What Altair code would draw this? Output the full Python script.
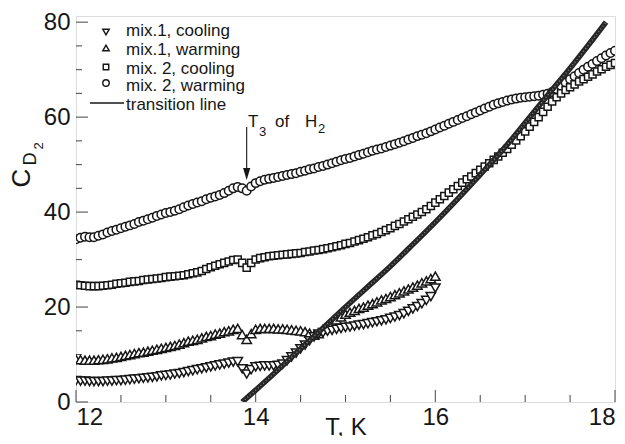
import altair as alt
import pandas as pd
import numpy as np

# ---------------- data ----------------
T_START, T_STEP = 12.0, 0.05

mix2_warming = [  # circles, T = 12.00 ... 18.00
    34.3, 34.6, 34.8, 34.7, 34.7, 35.0, 35.3, 35.7, 36.0, 36.3,
    36.6, 36.9, 37.2, 37.5, 37.9, 38.2, 38.5, 38.8, 39.2, 39.5,
    39.8, 40.0, 40.3, 40.6, 41.0, 41.4, 41.7, 42.0, 42.3, 42.7,
    43.0, 43.3, 43.6, 44.0, 44.5, 45.0, 45.3, 45.0, 44.5, 45.4,
    46.1, 46.5, 46.8, 47.0, 47.2, 47.4, 47.6, 47.8, 48.0, 48.2,
    48.5, 48.7, 49.0, 49.2, 49.5, 49.7, 50.0, 50.3, 50.6, 50.9,
    51.2, 51.4, 51.7, 52.0, 52.3, 52.6, 52.9, 53.2, 53.4, 53.7,
    54.0, 54.3, 54.6, 54.9, 55.3, 55.6, 56.0, 56.3, 56.6, 57.0,
    57.4, 57.8, 58.2, 58.6, 59.0, 59.4, 59.8, 60.2, 60.6, 61.0,
    61.4, 61.8, 62.2, 62.6, 62.9, 63.2, 63.5, 63.7, 63.9, 64.1,
    64.2, 64.3, 64.4, 64.5, 64.7, 64.9, 65.3, 65.9, 66.6, 67.3,
    68.0, 68.6, 69.3, 70.0, 70.6, 71.2, 71.8, 72.4, 73.0, 73.5,
    74.0,
]

mix2_cooling = [  # squares, T = 12.00 ... 18.00
    24.7, 24.6, 24.5, 24.4, 24.4, 24.4, 24.5, 24.6, 24.7, 24.9,
    25.0, 25.1, 25.3, 25.4, 25.5, 25.7, 25.8, 25.9, 26.0, 26.1,
    26.3, 26.4, 26.5, 26.6, 26.7, 26.9, 27.1, 27.3, 27.6, 28.0,
    28.4, 28.7, 29.0, 29.3, 29.6, 29.9, 30.0, 29.3, 28.3, 29.3,
    30.0, 30.3, 30.5, 30.7, 30.8, 30.9, 31.0, 31.1, 31.2, 31.3,
    31.4, 31.6, 31.7, 31.9, 32.0, 32.2, 32.4, 32.6, 32.8, 33.0,
    33.3, 33.5, 33.8, 34.1, 34.4, 34.7, 35.1, 35.4, 35.8, 36.2,
    36.6, 37.1, 37.5, 38.0, 38.5, 39.0, 39.5, 40.0, 40.6, 41.3,
    42.0, 42.7, 43.4, 44.1, 44.8, 45.5, 46.2, 46.9, 47.5, 48.2,
    48.9, 49.6, 50.3, 51.0, 51.7, 52.5, 53.3, 54.2, 55.1, 56.0,
    57.0, 58.0, 59.0, 60.0, 61.1, 62.2, 63.3, 64.2, 65.0, 65.7,
    66.3, 66.9, 67.5, 68.0, 68.5, 69.0, 69.6, 70.1, 70.6, 71.0,
    71.4,
]

mix1_warming = [  # up triangles, T = 12.00 ... 16.00
    9.0, 8.9, 8.8, 8.8, 8.8, 8.9, 9.0, 9.1, 9.3, 9.4,
    9.6, 9.8, 10.0, 10.2, 10.4, 10.5, 10.7, 10.9, 11.1, 11.3,
    11.5, 11.7, 11.9, 12.2, 12.5, 12.8, 13.0, 13.2, 13.5, 13.8,
    14.0, 14.3, 14.5, 14.8, 15.0, 15.3, 15.5, 14.2, 13.2, 14.4,
    15.3, 15.5, 15.5, 15.5, 15.5, 15.4, 15.4, 15.3, 15.2, 15.1,
    15.0, 14.8, 14.5, 14.1, 14.4, 15.3, 16.0, 16.7, 17.3, 17.9,
    18.5, 18.9, 19.3, 19.7, 20.0, 20.4, 20.7, 21.1, 21.5, 21.8,
    22.2, 22.6, 23.0, 23.4, 23.8, 24.2, 24.6, 25.1, 25.5, 26.0,
    26.5,
]

mix1_cooling = [  # down triangles, T = 12.00 ... 16.00
    4.5, 4.4, 4.4, 4.3, 4.3, 4.3, 4.3, 4.4, 4.4, 4.5,
    4.5, 4.6, 4.7, 4.8, 4.9, 5.0, 5.1, 5.2, 5.3, 5.5,
    5.6, 5.7, 5.9, 6.0, 6.2, 6.4, 6.6, 6.8, 7.0, 7.2,
    7.4, 7.6, 7.8, 8.0, 8.2, 8.4, 8.5, 7.0, 5.9, 6.8,
    7.4, 7.5, 7.6, 7.6, 7.6, 7.7, 8.0, 8.7, 9.5, 10.3,
    11.2, 12.0, 12.9, 13.7, 14.3, 14.6, 14.9, 15.1, 15.3, 15.5,
    15.7, 15.8, 16.0, 16.2, 16.3, 16.5, 16.7, 16.9, 17.1, 17.3,
    17.6, 17.9, 18.2, 18.6, 19.1, 19.6, 20.1, 20.7, 21.4, 22.2,
    24.0,
]

trans_T = [13.85, 14.0, 14.25, 14.5, 14.75, 15.0, 15.25, 15.5, 15.75,
           16.0, 16.25, 16.5, 16.75, 17.0, 17.25, 17.5, 17.75, 17.9]
trans_C = [0.0, 2.5, 6.8, 11.2, 15.6, 20.0, 24.3, 28.6, 33.2,
           37.9, 42.8, 47.9, 53.1, 58.8, 64.6, 70.3, 76.3, 80.0]

x_labels = [12, 14, 16, 18]
x_minor = [12.5, 13, 13.5, 14.5, 15, 15.5, 16.5, 17, 17.5]
y_labels = [0, 20, 40, 60, 80]
y_minor = [5, 10, 15, 25, 30, 35, 45, 50, 55, 65, 70, 75]

arrow_T = [13.9]
arrow_top = [57.9]
arrow_head = [48.0]

legend_labels = ["mix.1, cooling", "mix.1, warming", "mix. 2, cooling",
                 "mix. 2, warming", "transition line"]

# ---------------- layout ----------------
W, H = 539, 386
FONT = "Liberation Sans"
INK = "#161616"

xscale = alt.Scale(domain=[12, 18], nice=False, zero=False)
yscale = alt.Scale(domain=[0, 81.3], nice=False, zero=False)
xaxis = alt.Axis(values=x_labels, ticks=False, domain=False, grid=False,
                 labelFontSize=24, labelPadding=3, labelFont=FONT,
                 labelColor=INK, title=None, format="d")
yaxis = alt.Axis(values=y_labels, ticks=False, domain=False, grid=False,
                 labelFontSize=24, labelPadding=6, labelFont=FONT,
                 labelColor=INK, title=None, format="d")


def X(f):
    return alt.X(f, type="quantitative", scale=xscale, axis=xaxis)


def Y(f):
    return alt.Y(f, type="quantitative", scale=yscale, axis=yaxis)


def series(vals):
    t = np.round(T_START + T_STEP * np.arange(len(vals)), 2)
    return pd.DataFrame({"T": t, "C": vals})


def markers(vals, shape, size):
    return alt.Chart(series(vals)).mark_point(
        shape=shape, size=size, filled=True, fill="white", stroke=INK,
        strokeWidth=1.5, opacity=1, clip=True
    ).encode(x=X("T"), y=Y("C"))


layers = []

# tick marks (inward)
layers.append(alt.Chart(pd.DataFrame({"v": y_minor})).mark_rule(color="#555", strokeWidth=1.1)
              .encode(y=Y("v"), x=alt.value(0), x2=alt.value(6)))
layers.append(alt.Chart(pd.DataFrame({"v": y_labels})).mark_rule(color="#555", strokeWidth=1.1)
              .encode(y=Y("v"), x=alt.value(0), x2=alt.value(12)))
layers.append(alt.Chart(pd.DataFrame({"v": x_minor})).mark_rule(color="#555", strokeWidth=1.1)
              .encode(x=X("v"), y=alt.value(H), y2=alt.value(H - 7)))
layers.append(alt.Chart(pd.DataFrame({"v": x_labels})).mark_rule(color="#555", strokeWidth=1.1)
              .encode(x=X("v"), y=alt.value(H), y2=alt.value(H - 12)))

# data series
layers.append(markers(mix2_warming, "circle", 72))
layers.append(markers(mix2_cooling, "square", 50))
layers.append(markers(mix1_warming, "triangle-up", 90))
layers.append(markers(mix1_cooling, "triangle-down", 90))

trans = pd.DataFrame({"T": trans_T, "C": trans_C})
layers.append(alt.Chart(trans).mark_line(color="#262626", strokeWidth=5.5,
                                         interpolate="monotone", clip=True)
              .encode(x=X("T"), y=Y("C")))
layers.append(alt.Chart(trans).mark_line(color="#8c8c8c", strokeWidth=1.3,
                                         strokeDash=[1, 2.5], interpolate="monotone", clip=True)
              .encode(x=X("T"), y=Y("C")))

# arrow  T3 of H2
arr = pd.DataFrame({"T": arrow_T, "top": arrow_top, "head": arrow_head})
layers.append(alt.Chart(arr).mark_rule(color=INK, strokeWidth=1.1)
              .encode(x=X("T"), y=Y("top"), y2="head:Q"))
layers.append(alt.Chart(arr).mark_point(shape="M-0.6,-1L0.6,-1L0,1Z", size=144,
                                        filled=True, color=INK, opacity=1)
              .encode(x=X("T"), y=Y("head")))


def txt(s, x, y, size, align="left", baseline="alphabetic", angle=0):
    kw = dict(align=align, baseline=baseline, fontSize=size, font=FONT, color=INK)
    if angle:
        kw["angle"] = angle
    return alt.Chart(pd.DataFrame({"t": [s]})).mark_text(**kw).encode(
        x=alt.value(x), y=alt.value(y), text="t:N")


# annotation T3 of H2
layers.append(txt("T", 172, 111, 17))
layers.append(txt("3", 183, 120, 13))
layers.append(txt("of", 199, 111, 17))
layers.append(txt("H", 229, 111, 17))
layers.append(txt("2", 242, 117, 13))

# legend
leg_shapes = ["triangle-down", "triangle-up", "square", "circle"]
leg_y = [16, 32, 51, 67]
for shp, yy in zip(leg_shapes, leg_y):
    layers.append(alt.Chart(pd.DataFrame({"t": [shp]})).mark_point(
        shape=shp, size=42 if shp != "square" else 30, filled=True, fill="white",
        stroke=INK, strokeWidth=1.4, opacity=1)
        .encode(x=alt.value(30), y=alt.value(yy)))
layers.append(alt.Chart(pd.DataFrame({"t": ["l"]})).mark_rule(color=INK, strokeWidth=1.5)
              .encode(x=alt.value(14), x2=alt.value(48), y=alt.value(87)))
for lab, yy in zip(legend_labels, [20, 39, 58, 75, 94]):
    layers.append(txt(lab, 50, yy, 17))

# axis titles
layers.append(txt("T, K", 270, 419, 24, align="center"))
layers.append(txt("C", -54, 162, 26, align="center", baseline="middle", angle=270))
layers.append(txt("D", -45, 143, 18, align="center", baseline="middle", angle=270))
layers.append(txt("2", -37, 130, 13, align="center", baseline="middle", angle=270))

chart = alt.layer(*layers).properties(
    width=W, height=H,
    autosize=alt.AutoSizeParams(type="none"),
    padding={"left": 68, "top": 8, "right": 2, "bottom": 34},
).configure_view(stroke="#6a6a6a", strokeWidth=1.2).configure(background="white")

chart.save("out.html", embed_options={"renderer": "svg", "actions": False})
